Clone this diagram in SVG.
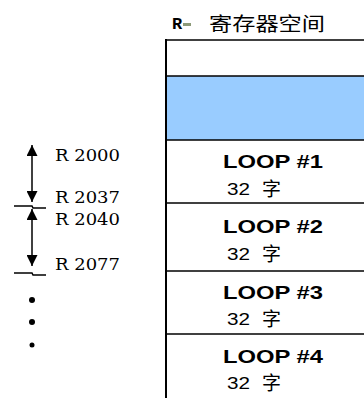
<svg xmlns="http://www.w3.org/2000/svg" width="364" height="398" viewBox="0 0 364 398">
<style>
.ln{stroke:#000;stroke-width:1.5;fill:none}
.bd{stroke:#000;stroke-width:2;fill:none}
.loop{font-family:"Liberation Sans",Arial,sans-serif;font-weight:bold;font-size:19px;fill:#000}
.cnt{font-family:"Liberation Sans","Noto Sans CJK SC",sans-serif;font-size:17px;fill:#000}
.cj{font-family:"Noto Sans CJK SC",sans-serif;font-size:19px;fill:#000}
.addr{font-family:"DejaVu Serif","Liberation Serif",serif;font-size:17px;fill:#000}
</style>
<defs>
<marker id="ah" viewBox="0 0 10 10" refX="10" refY="5" markerWidth="11" markerHeight="11" markerUnits="userSpaceOnUse" orient="auto-start-reverse">
<path d="M0,0 L10,5 L0,10 Z" fill="#000"/>
</marker>
</defs>
<rect width="364" height="398" fill="#fff"/>
<g id="header">
<text x="172" y="29" font-family="Liberation Mono,monospace" font-size="17" font-weight="bold">R</text>
<rect x="183" y="23" width="8" height="3" fill="#8c9a78"/>
<text x="209" y="31" class="cj" textLength="116" lengthAdjust="spacingAndGlyphs">寄存器空间</text>
</g>
<g id="table">
<rect x="166" y="76" width="198" height="64" fill="#99ccff"/>
<line class="ln" x1="166" y1="40" x2="364" y2="40"/>
<line class="ln" x1="166" y1="76" x2="364" y2="76"/>
<line class="ln" x1="166" y1="140" x2="364" y2="140"/>
<line class="ln" x1="166" y1="203" x2="364" y2="203"/>
<line class="ln" x1="166" y1="271" x2="364" y2="271"/>
<line class="ln" x1="166" y1="334" x2="364" y2="334"/>
<line class="bd" x1="166" y1="39" x2="166" y2="398"/>
</g>
<g id="loop1">
<text x="223" y="168" class="loop" textLength="100" lengthAdjust="spacingAndGlyphs">LOOP #1</text>
<text x="227" y="195" class="cnt" textLength="23" lengthAdjust="spacingAndGlyphs">32</text>
<text x="262" y="196" class="cj">字</text>
</g>
<g id="loop2">
<text x="223" y="233" class="loop" textLength="100" lengthAdjust="spacingAndGlyphs">LOOP #2</text>
<text x="227" y="260" class="cnt" textLength="23" lengthAdjust="spacingAndGlyphs">32</text>
<text x="262" y="261" class="cj">字</text>
</g>
<g id="loop3">
<text x="223" y="299" class="loop" textLength="100" lengthAdjust="spacingAndGlyphs">LOOP #3</text>
<text x="227" y="325" class="cnt" textLength="23" lengthAdjust="spacingAndGlyphs">32</text>
<text x="262" y="326" class="cj">字</text>
</g>
<g id="loop4">
<text x="223" y="363" class="loop" textLength="100" lengthAdjust="spacingAndGlyphs">LOOP #4</text>
<text x="227" y="389" class="cnt" textLength="23" lengthAdjust="spacingAndGlyphs">32</text>
<text x="262" y="390" class="cj">字</text>
</g>
<g id="labels">
<text x="55" y="161" class="addr" textLength="65" lengthAdjust="spacingAndGlyphs">R 2000</text>
<text x="55" y="203" class="addr" textLength="65" lengthAdjust="spacingAndGlyphs">R 2037</text>
<text x="55" y="225" class="addr" textLength="65" lengthAdjust="spacingAndGlyphs">R 2040</text>
<text x="55" y="270" class="addr" textLength="65" lengthAdjust="spacingAndGlyphs">R 2077</text>
</g>
<g id="connectors">
<line class="ln" x1="32" y1="145" x2="32" y2="202" marker-start="url(#ah)" marker-end="url(#ah)"/>
<line class="ln" x1="32" y1="209" x2="32" y2="266" marker-start="url(#ah)" marker-end="url(#ah)"/>
<polyline class="ln" points="14,206 32,206 33,208 46,208"/>
<polyline class="ln" points="14,273 32,273 33,275 46,275"/>
<circle cx="32" cy="300" r="3" fill="#000"/>
<circle cx="32" cy="322" r="3" fill="#000"/>
<circle cx="32" cy="345" r="2.5" fill="#000"/>
</g>
</svg>
